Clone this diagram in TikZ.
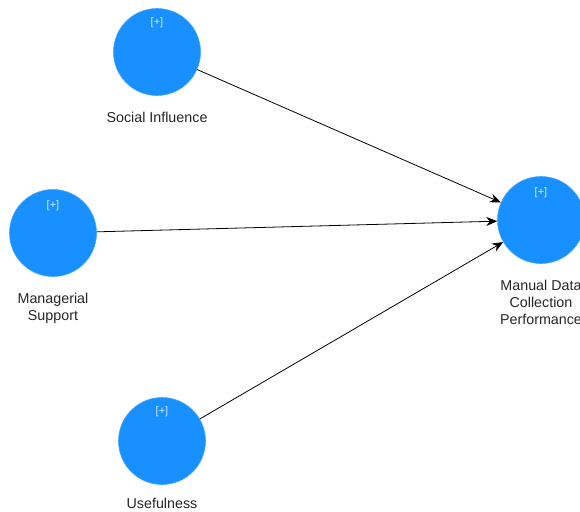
\documentclass[tikz,border=0pt]{standalone}
\usepackage{fontspec}
\setmainfont{Liberation Sans}
\usetikzlibrary{arrows.meta}
\definecolor{lvblue}{RGB}{24,144,255}
\tikzset{
  latent/.style={circle, fill=lvblue, draw=lvblue!80!white, line width=0.6pt,
    minimum size=87pt, inner sep=0pt},
  expand/.style={text=white, opacity=0.8, font=\fontsize{11}{12}\selectfont},
  caption/.style={align=center, text=black!85, font=\fontsize{14.3}{17}\selectfont},
  path/.style={draw=black, line width=0.8pt, -{Stealth[length=11pt,width=9pt]}},
}
\begin{document}
\begin{tikzpicture}[x=1pt, y=-1pt]
  \useasboundingbox (0,0) rectangle (580,511);
  \clip (0,0) rectangle (580,511);
  \fill[white] (0,0) rectangle (580,511);

  % latent variables
  \node[latent] (si) at (157,52) {};
  \node[latent] (ms) at (53,233) {};
  \node[latent] (us) at (162,441) {};
  \node[latent] (mdc) at (541,220) {};

  % expand markers
  \node[expand] (siplus) at (157,23) {[+]};
  \node[expand] (msplus) at (53,206) {[+]};
  \node[expand] (usplus) at (162,412) {[+]};
  \node[expand] (mdcplus) at (541,193) {[+]};

  % captions
  \node[caption] (silabel) at (157,117) {Social Influence};
  \node[caption] (mslabel) at (53,308) {Managerial\\Support};
  \node[caption] (uslabel) at (162,503) {Usefulness};
  \node[caption] (mdclabel) at (541,302) {Manual Data\\Collection\\Performance};

  % structural paths
  \draw[path] (si) -- (mdc);
  \draw[path] (ms) -- (mdc);
  \draw[path] (us) -- (mdc);
\end{tikzpicture}
\end{document}
